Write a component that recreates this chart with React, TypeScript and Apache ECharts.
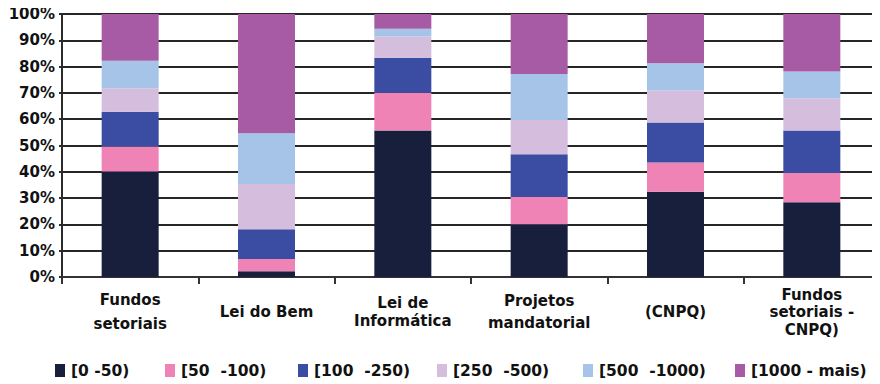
import React, { useEffect, useRef } from "react";
import * as echarts from "echarts";

// Funding sources (x axis), one rich-text style per label for its line spacing
const categories = [
  "Fundos\nsetoriais",
  "Lei do Bem",
  "Lei de\nInformática",
  "Projetos\nmandatorial",
  "(CNPQ)",
  "Fundos\nsetoriais -\nCNPQ)",
];
const labelStyles = ["a", "b", "c", "d", "b", "e"];

// Size bands (stack order, bottom to top)
const bands = [
  "[0 -50)",
  "[50  -100)",
  "[100  -250)",
  "[250  -500)",
  "[500  -1000)",
  "[1000 - mais)",
];

// Share of each band per funding source, in %
const band0to50 = [40.1, 2.2, 55.7, 20.1, 32.4, 28.4];
const band50to100 = [9.5, 4.6, 14.4, 10.3, 11.1, 11.1];
const band100to250 = [13.2, 11.4, 13.3, 16.3, 15.2, 16.2];
const band250to500 = [9.0, 17.2, 8.0, 13.0, 12.2, 12.3];
const band500to1000 = [10.4, 19.3, 3.0, 17.5, 10.4, 10.1];
const band1000plus = [17.8, 45.3, 5.6, 22.8, 18.7, 21.9];

const seriesValues = [
  band0to50,
  band50to100,
  band100to250,
  band250to500,
  band500to1000,
  band1000plus,
];

const yTicks = [0, 10, 20, 30, 40, 50, 60, 70, 80, 90, 100];

const colors = ["#171f3d", "#ef83b6", "#3b4ca3", "#d5bedd", "#a6c4e7", "#a75ba5"];
const legendLefts = [55, 165, 298, 437, 583, 735];

const FONT = "DejaVu Sans";

export default function App() {
  const ref = useRef<HTMLDivElement>(null);

  useEffect(() => {
    if (!ref.current) return;
    const chart = echarts.init(ref.current, undefined, { renderer: "svg" });

    const baseText = {
      fontFamily: FONT,
      fontWeight: "bold" as const,
      fontSize: 15,
      color: "#111",
    };

    chart.setOption({
      animation: false,
      backgroundColor: "#fff",
      grid: { left: 62, top: 14, width: 820, height: 263, containLabel: false },
      legend: bands.map((name, i) => ({
        data: [name],
        left: legendLefts[i],
        top: 362,
        icon: "rect",
        itemWidth: 10,
        itemHeight: 13,
        padding: 0,
        textStyle: { ...baseText, fontSize: 15.5, lineHeight: 17, padding: [0, 0, 0, 1] },
        selectedMode: false,
      })),
      xAxis: {
        type: "category",
        data: categories,
        axisLine: { show: true, lineStyle: { color: "#333", width: 2 } },
        axisTick: {
          show: true,
          length: 7,
          alignWithLabel: false,
          lineStyle: { color: "#333", width: 2 },
        },
        axisLabel: {
          ...baseText,
          interval: 0,
          margin: 35,
          verticalAlign: "middle",
          formatter: (v: string) => {
            const idx = categories.indexOf(v);
            const s = labelStyles[idx];
            return v
              .split("\n")
              .map((line) => `{${s}|${line}}`)
              .join("\n");
          },
          rich: {
            a: { ...baseText, lineHeight: 24 },
            b: { ...baseText, lineHeight: 18 },
            c: { ...baseText, lineHeight: 18 },
            d: { ...baseText, lineHeight: 22 },
            e: { ...baseText, lineHeight: 17.5 },
          },
        },
        splitLine: { show: false },
      },
      yAxis: {
        type: "value",
        min: yTicks[0],
        max: yTicks[yTicks.length - 1],
        interval: 10,
        axisLine: { show: true, lineStyle: { color: "#2b2b2b", width: 2 } },
        axisTick: { show: true, length: 3, lineStyle: { color: "#2b2b2b", width: 2 } },
        axisLabel: { ...baseText, margin: 7, formatter: "{value}%" },
        splitLine: { show: true, lineStyle: { color: "#262626", width: 2 } },
      },
      series: bands.map((name, i) => ({
        name,
        type: "bar",
        stack: "total",
        barWidth: 57,
        data: seriesValues[i],
        itemStyle: { color: colors[i] },
      })),
    });

    return () => chart.dispose();
  }, []);

  // offset the body's default margin so the chart sits at the page origin
  return (
    <div
      ref={ref}
      style={{ width: 880, height: 384, marginLeft: -8, marginTop: -8 }}
    />
  );
}
